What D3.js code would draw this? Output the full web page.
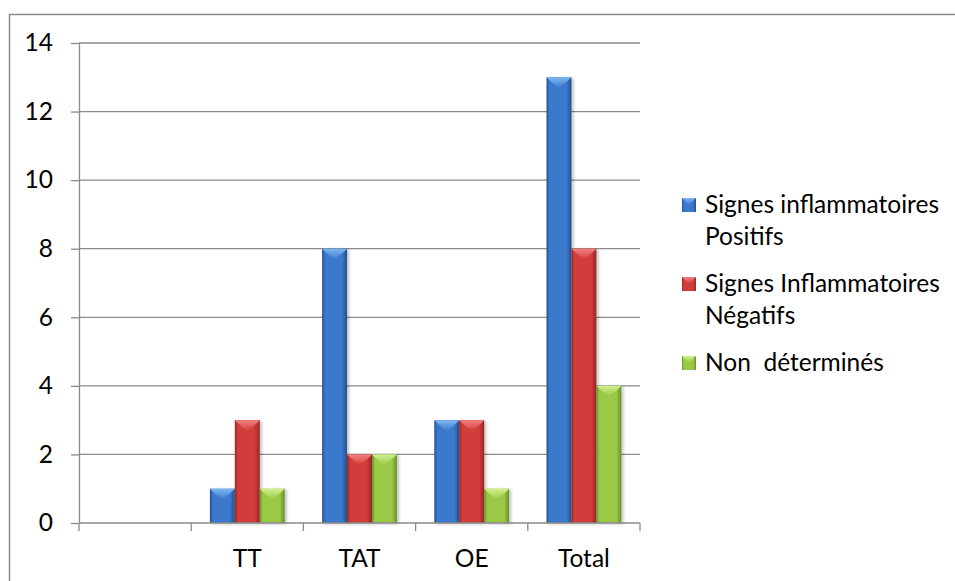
<!DOCTYPE html>
<html>
<head>
<meta charset="utf-8">
<script src="https://cdn.jsdelivr.net/npm/d3@7"></script>
<style>
  body { margin: 0; background: #fff; }
  svg { display: block; font-family: Lato, "Open Sans", sans-serif; }
</style>
</head>
<body>
<svg></svg>
<script>
const categories = ["", "TT", "TAT", "OE", "Total"];
const seriesNames = [
  ["Signes inflammatoires", "Positifs"],
  ["Signes Inflammatoires", "Négatifs"],
  ["Non  déterminés"]
];
const positifs = [null, 1, 8, 3, 13];
const negatifs = [null, 3, 2, 3, 8];
const nonDetermines = [null, 1, 2, 1, 4];
const yTicks = [0, 2, 4, 6, 8, 10, 12, 14];

const W = 955, H = 581;
const fontSize = 24.5;
const colors = [
  { edge: "#244f8c", mid: "#3b79cc", light: "#80b6f2" },
  { edge: "#962624", mid: "#d03c3a", light: "#f28280" },
  { edge: "#66902a", mid: "#9ac846", light: "#d0f08e" }
];

const svg = d3.select("svg").attr("width", W).attr("height", H);
const defs = svg.append("defs");

colors.forEach((c, i) => {
  const g = defs.append("linearGradient").attr("id", "bar" + i)
    .attr("x1", 0).attr("x2", 1).attr("y1", 0).attr("y2", 0);
  g.append("stop").attr("offset", "0%").attr("stop-color", c.edge);
  g.append("stop").attr("offset", "12%").attr("stop-color", c.mid);
  g.append("stop").attr("offset", "80%").attr("stop-color", c.mid);
  g.append("stop").attr("offset", "100%").attr("stop-color", c.edge);
  const t = defs.append("linearGradient").attr("id", "cap" + i)
    .attr("x1", 0).attr("x2", 0).attr("y1", 0).attr("y2", 1);
  t.append("stop").attr("offset", "0%").attr("stop-color", c.light);
  t.append("stop").attr("offset", "100%").attr("stop-color", c.mid);
});

const shadow = defs.append("filter").attr("id", "shadow")
  .attr("x", "-20%").attr("y", "-5%").attr("width", "150%").attr("height", "115%");
shadow.append("feDropShadow").attr("dx", 2).attr("dy", 1).attr("stdDeviation", 1.5)
  .attr("flood-color", "#000").attr("flood-opacity", 0.25);

// outer frame (right and bottom edges fall outside the picture)
svg.append("rect")
  .attr("x", 9.5).attr("y", 14.5).attr("width", 980).attr("height", 620)
  .attr("fill", "none").attr("stroke", "#8a8a8a").attr("stroke-width", 1.5);

const x = d3.scaleBand().domain(categories).range([79, 640]).padding(0);
const sub = d3.scaleBand().domain([0, 1, 2]).range([0, x.bandwidth()])
  .paddingInner(0).paddingOuter(0.75);
const y = d3.scaleLinear().domain([0, 14]).range([523, 43]);

// gridlines
svg.append("g").selectAll("line").data(yTicks.slice(1)).join("line")
  .attr("x1", 79).attr("x2", 640)
  .attr("y1", d => y(d)).attr("y2", d => y(d))
  .attr("stroke", "#8a8a8a").attr("stroke-width", 1.3);

// y axis
const yAxis = svg.append("g").attr("transform", "translate(79,0)")
  .call(d3.axisLeft(y).tickValues(yTicks).tickSize(8).tickPadding(18).tickSizeOuter(0));
yAxis.selectAll("line, path").attr("stroke", "#8a8a8a").attr("stroke-width", 1.3);
yAxis.selectAll("text").attr("font-size", fontSize).attr("fill", "#000")
  .attr("font-family", "Lato, sans-serif");

// bars
const series = [positifs, negatifs, nonDetermines];
const bars = [];
categories.forEach((c, ci) => {
  series.forEach((s, si) => {
    if (s[ci] != null) bars.push({ c, si, v: s[ci] });
  });
});

const barG = svg.append("g");
const bw = sub.bandwidth();
const bar = barG.selectAll("g").data(bars).join("g")
  .attr("transform", d => `translate(${x(d.c) + sub(d.si)},0)`);
bar.append("rect")
  .attr("x", 0).attr("width", bw)
  .attr("y", d => y(d.v)).attr("height", d => y(0) - y(d.v))
  .attr("fill", d => `url(#bar${d.si})`)
  .attr("filter", "url(#shadow)");
bar.append("path")
  .attr("d", d => {
    const t = y(d.v);
    return `M0,${t}L${bw},${t}L${bw - 3},${t + 3}L${bw / 2},${t + 11}L3,${t + 3}Z`;
  })
  .attr("fill", d => `url(#cap${d.si})`);

// x axis
svg.append("line")
  .attr("x1", 79).attr("x2", 640).attr("y1", y(0)).attr("y2", y(0))
  .attr("stroke", "#8a8a8a").attr("stroke-width", 1.3);
const bounds = categories.map(c => x(c)).concat([x.range()[1]]);
svg.append("g").selectAll("line").data(bounds).join("line")
  .attr("x1", d => d).attr("x2", d => d)
  .attr("y1", y(0)).attr("y2", y(0) + 8)
  .attr("stroke", "#8a8a8a").attr("stroke-width", 1.3);
const xAxis = svg.append("g").attr("transform", `translate(0,${y(0)})`)
  .call(d3.axisBottom(x).tickSize(0).tickPadding(0));
xAxis.select(".domain").remove();
xAxis.selectAll("text").attr("font-size", fontSize).attr("fill", "#000")
  .attr("font-family", "Lato, sans-serif")
  .attr("dy", null).attr("y", 44);

// legend
const legend = svg.append("g").attr("transform", "translate(682,0)");
const legendY = [205, 284, 363];
seriesNames.forEach((lines, i) => {
  const g = legend.append("g").attr("transform", `translate(0,${legendY[i]})`);
  g.append("rect").attr("x", 0).attr("y", -7).attr("width", 14).attr("height", 14)
    .attr("fill", `url(#bar${i})`);
  g.append("path")
    .attr("d", "M0,-7L14,-7L7,0Z")
    .attr("fill", `url(#cap${i})`);
  const t = g.append("text").attr("x", 23).attr("y", 8)
    .attr("font-size", fontSize).attr("fill", "#000");
  lines.forEach((l, li) => {
    t.append("tspan").attr("x", 23).attr("dy", li ? 32 : 0).text(l)
      .style("white-space", "pre");
  });
});
</script>
</body>
</html>
